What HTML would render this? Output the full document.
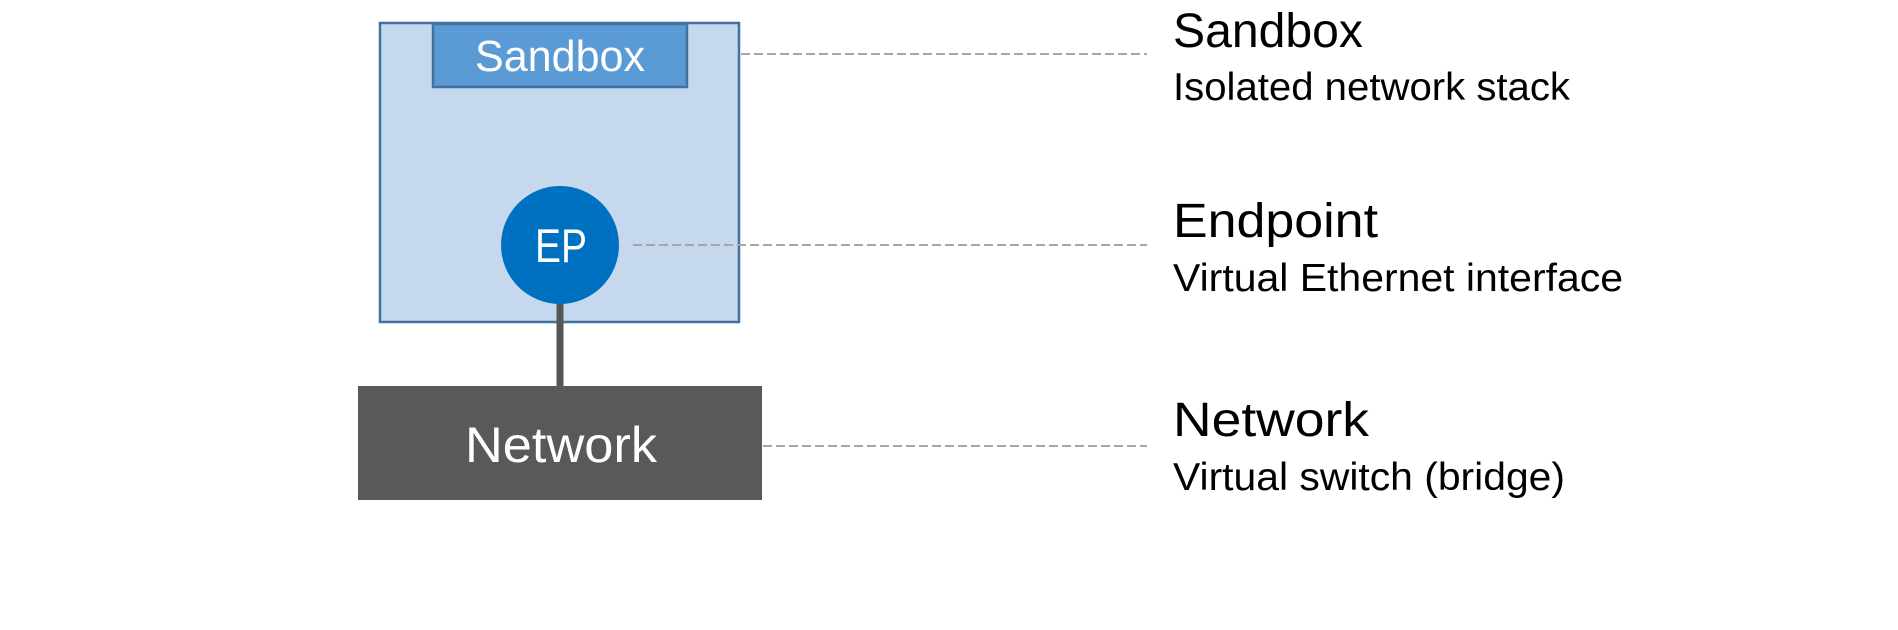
<!DOCTYPE html>
<html><head><style>html,body{margin:0;padding:0;background:#fff;}svg{display:block}</style></head>
<body>
<svg width="1898" height="630" viewBox="0 0 1898 630" xmlns="http://www.w3.org/2000/svg" font-family="'Liberation Sans', sans-serif">
<rect width="1898" height="630" fill="#fff"/>
<rect x="380" y="23" width="359" height="299" fill="#c5d8ee" stroke="#41719c" stroke-width="2.5"/>
<rect x="433" y="24" width="254" height="63" fill="#5b9bd5" stroke="#41719c" stroke-width="2.5"/>
<text x="475" y="71" font-size="44" fill="#fff" textLength="170" lengthAdjust="spacingAndGlyphs">Sandbox</text>
<line x1="560" y1="300" x2="560" y2="388" stroke="#555" stroke-width="7"/>
<circle cx="560" cy="245" r="59" fill="#0070c0"/>
<text x="535" y="262" font-size="47" fill="#fff" textLength="52" lengthAdjust="spacingAndGlyphs">EP</text>
<rect x="358" y="386" width="404" height="114" fill="#595959"/>
<text x="465" y="462" font-size="50" fill="#fff" textLength="192" lengthAdjust="spacingAndGlyphs">Network</text>
<g stroke="#a6a6a6" stroke-width="2" stroke-dasharray="9,4">
<line x1="741" y1="54" x2="1147" y2="54"/>
<line x1="633" y1="245" x2="1147" y2="245"/>
<line x1="763" y1="446" x2="1147" y2="446"/>
</g>
<g fill="#000">
<text x="1173" y="47" font-size="48" textLength="190" lengthAdjust="spacingAndGlyphs">Sandbox</text>
<text x="1173" y="100" font-size="39" textLength="397" lengthAdjust="spacingAndGlyphs">Isolated network stack</text>
<text x="1173" y="237" font-size="48" textLength="205" lengthAdjust="spacingAndGlyphs">Endpoint</text>
<text x="1173" y="291" font-size="39" textLength="450" lengthAdjust="spacingAndGlyphs">Virtual Ethernet interface</text>
<text x="1173" y="436" font-size="48" textLength="196" lengthAdjust="spacingAndGlyphs">Network</text>
<text x="1173" y="490" font-size="39" textLength="392" lengthAdjust="spacingAndGlyphs">Virtual switch (bridge)</text>
</g>
</svg>
</body></html>
